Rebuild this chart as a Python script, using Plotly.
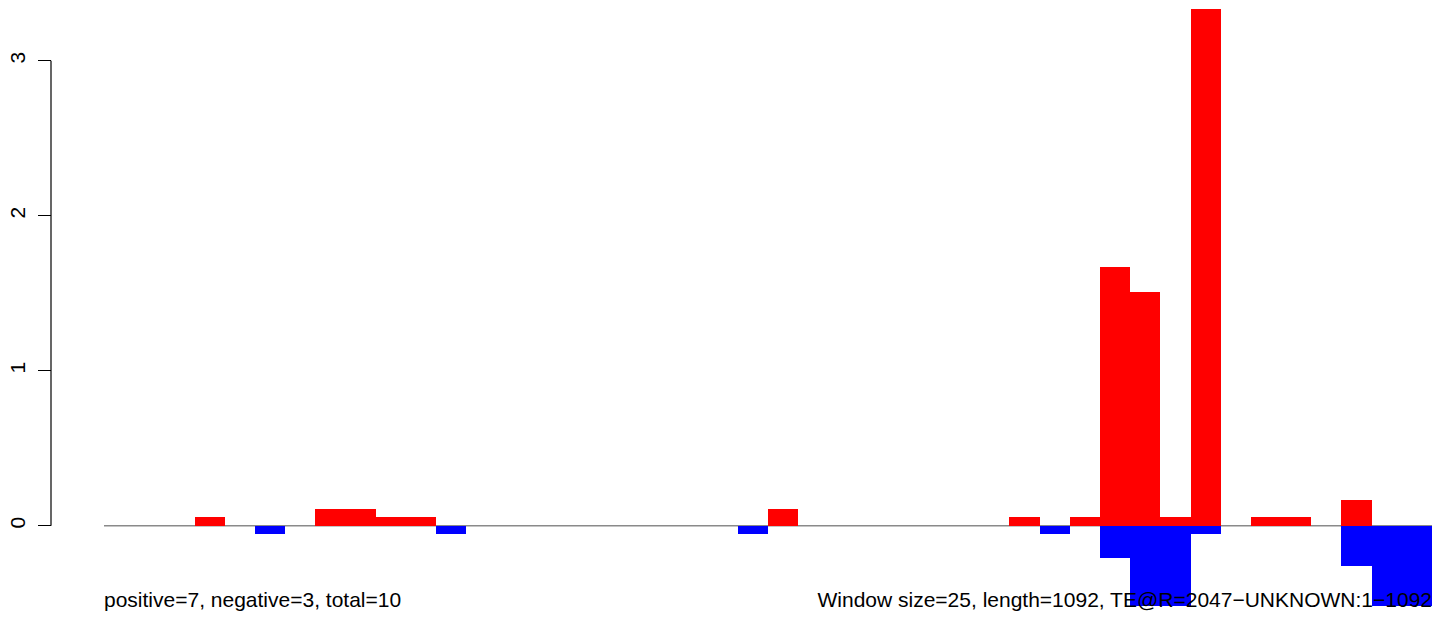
import plotly.graph_objects as go

# ---- data ----
window_size = 25
n_windows = 44
pos_index = [3, 7, 8, 9, 10, 22, 30, 32, 33, 34, 35, 36, 38, 39, 41]
pos_values = [0.056, 0.111, 0.111, 0.056, 0.056, 0.111, 0.056, 0.056, 1.667, 1.506, 0.056, 3.333, 0.056, 0.056, 0.163]
neg_index = [5, 11, 21, 31, 33, 34, 35, 36, 41, 42, 43]
neg_values = [-0.053, -0.053, -0.053, -0.053, -0.208, -0.52, -0.52, -0.053, -0.26, -0.52, -0.52]
y_ticks = [0, 1, 2, 3]
left_label = "positive=7, negative=3, total=10"
right_label = "Window size=25, length=1092, TE@R=2047\u2212UNKNOWN:1\u22121092"

# ---- geometry (page body has an 8px margin) ----
OFF = 8
W, H = 1444 - OFF, 624 - OFF
ML = 43
x0_px = 104 - OFF
x1_px = 1432 - OFF
MR = W - x1_px
plot_w = W - ML - MR
dom0 = (x0_px - ML) / plot_w
zero_px = 525.7 - OFF
px_per_unit = 155.0
y_top = zero_px / px_per_unit
y_bot = -(H - zero_px) / px_per_unit
x_max = n_windows * window_size

FONT = "Liberation Sans, Arial, Helvetica, sans-serif"
FS = 21

pos_x = [(i + 0.5) * window_size for i in pos_index]
neg_x = [(i + 0.5) * window_size for i in neg_index]

fig = go.Figure()

fig.add_trace(go.Bar(x=pos_x, y=pos_values, width=window_size,
                     marker=dict(color="#FF0000", line=dict(width=0)), showlegend=False))
fig.add_trace(go.Bar(x=neg_x, y=neg_values, width=window_size,
                     marker=dict(color="#0000FF", line=dict(width=0)), showlegend=False))

# text drawn above the bars
text_y = -((607 - OFF) + 0.25 * FS - zero_px) / px_per_unit
fig.add_trace(go.Scatter(
    x=[0], y=[text_y], mode="text", text=[left_label], textposition="top right",
    textfont=dict(family=FONT, size=FS, color="black"), hoverinfo="skip",
    showlegend=False, cliponaxis=False))
fig.add_trace(go.Scatter(
    x=[x_max], y=[text_y], mode="text", text=[right_label], textposition="top left",
    textfont=dict(family=FONT, size=FS, color="black"), hoverinfo="skip",
    showlegend=False, cliponaxis=False))

# baseline (under bars) and the R-style axis line
fig.add_shape(type="line", xref="x", yref="y", x0=0, x1=x_max, y0=0, y1=0,
              line=dict(color="#8a8a8a", width=1.5), layer="below")
fig.add_shape(type="line", xref="paper", yref="y", x0=0, x1=0, y0=0, y1=3,
              line=dict(color="black", width=1.2), layer="above")

fig.update_layout(
    template="none",
    width=W, height=H,
    margin=dict(l=ML, r=MR, t=0, b=0, autoexpand=False),
    paper_bgcolor="white", plot_bgcolor="white",
    barmode="overlay", bargap=0, showlegend=False,
    font=dict(family=FONT, size=FS, color="black"),
    xaxis=dict(domain=[dom0, 1], range=[0, x_max], visible=False, fixedrange=True, automargin=False),
    yaxis=dict(range=[y_bot, y_top], anchor="free", position=0, showline=False, showgrid=False,
               zeroline=False, tickmode="array", tickvals=y_ticks, ticktext=[str(v) for v in y_ticks],
               ticks="outside", ticklen=13, tickwidth=1.2, tickcolor="black", tickangle=-90,
               tickfont=dict(family=FONT, size=FS, color="black"), ticklabelstandoff=5,
               automargin=False, fixedrange=True),
)

fig.write_html("out.html")
